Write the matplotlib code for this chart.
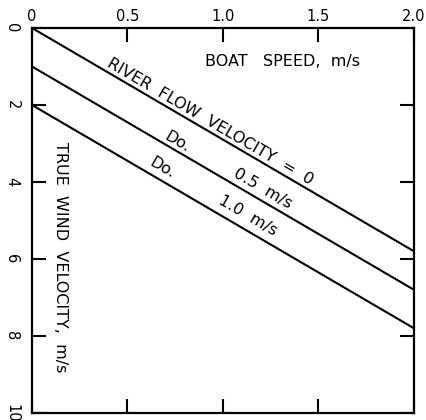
import numpy as np
import matplotlib.pyplot as plt

# boat speed vs true wind velocity, one line per river flow velocity
boat_speed = [0.0, 2.0]
wind_flow0 = [0.0, 5.8]
wind_flow05 = [1.0, 6.8]
wind_flow10 = [2.0, 7.8]

x_ticks = [0, 0.5, 1.0, 1.5, 2.0]
x_labels = ['0', '0.5', '1.0', '1.5', '2.0']
y_ticks = [0, 2, 4, 6, 8, 10]

fig = plt.figure(figsize=(4.27, 4.2), dpi=100)
ax = fig.add_axes([32/427, 1 - 413/420, (414 - 32)/427, (413 - 28)/420])

for ys in (wind_flow0, wind_flow05, wind_flow10):
    ax.plot(boat_speed, ys, color='black', lw=1.5, solid_capstyle='butt')

ax.set_xlim(0, 2.0)
ax.set_ylim(10, 0)

ax.xaxis.tick_top()
ax.set_xticks(x_ticks)
ax.set_xticklabels(x_labels, fontsize=10.5)
ax.set_yticks(y_ticks)
ax.set_yticklabels([str(v) for v in y_ticks], fontsize=10.5, rotation=-90, va='center')
ax.tick_params(axis='both', direction='in', length=10, width=1.5,
               top=True, bottom=True, left=True, right=True)
ax.tick_params(axis='x', pad=3)
ax.tick_params(axis='y', pad=9)
for s in ax.spines.values():
    s.set_linewidth(1.6)

# text along the lines, angle taken from the line in display space
p0 = ax.transData.transform((0, 0))
p1 = ax.transData.transform((2.0, 5.8))
ang = np.degrees(np.arctan2(p1[1] - p0[1], p1[0] - p0[0]))

fs = 11.5
kw = dict(rotation=ang, rotation_mode='anchor', ha='left', va='baseline', fontsize=fs)
ax.text(0.39, 1.0, 'RIVER  FLOW  VELOCITY  =  0', **kw)
ax.text(0.69, 2.88, 'Do.', **kw)
ax.text(1.05, 3.84, '0.5  m/s', **kw)
ax.text(0.61, 3.55, 'Do.', **kw)
ax.text(0.97, 4.55, '1.0  m/s', **kw)

ax.text(0.905, 0.88, 'BOAT   SPEED,  m/s', ha='left', va='center', fontsize=fs)
ax.text(0.147, 5.95, 'TRUE  WIND  VELOCITY,  m/s', rotation=-90,
        ha='center', va='center', fontsize=fs)

fig.savefig('out.png', dpi=100)
